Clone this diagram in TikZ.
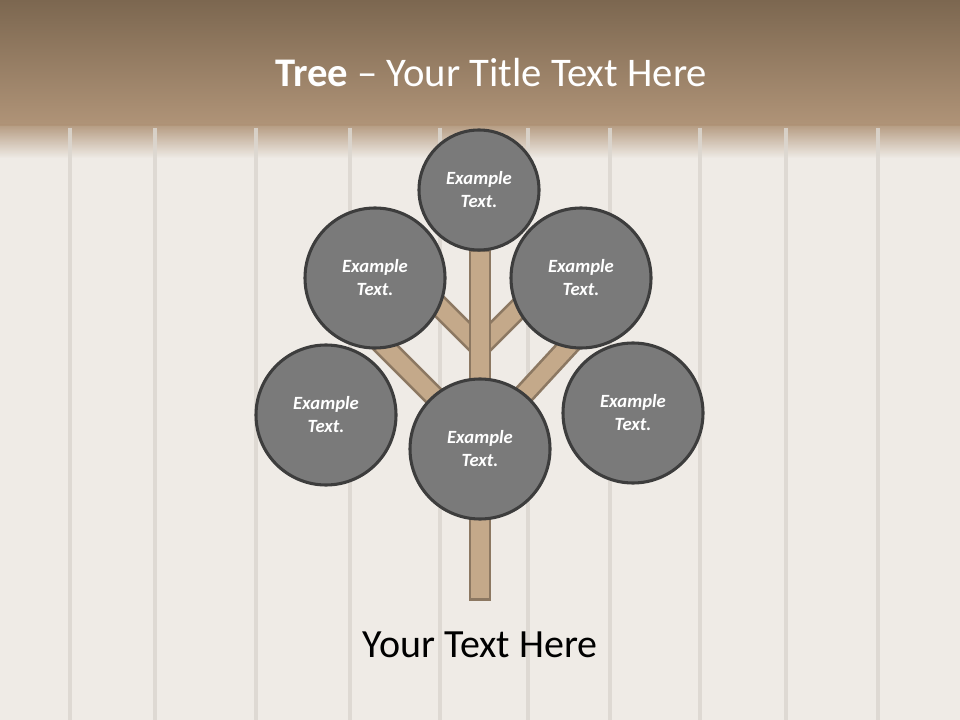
\documentclass[tikz,border=0pt]{standalone}
\usepackage{fontspec}
\setmainfont{Carlito}
\definecolor{headtop}{HTML}{7C6750}
\definecolor{headbot}{HTML}{B09478}
\definecolor{plank}{HTML}{EFEBE6}
\definecolor{seam}{HTML}{DCD7D0}
\definecolor{bark}{HTML}{C4A98A}
\definecolor{barkline}{HTML}{8C7862}
\definecolor{leaf}{HTML}{7A7A7A}
\definecolor{leafline}{HTML}{3D3D3D}
\tikzset{
  leafbig/.style={circle, draw=leafline, fill=leaf, line width=2.3pt, minimum size=105pt,
    inner sep=0pt, text=white, align=center, font=\fontsize{14}{17.25}\selectfont\bfseries\itshape},
  leafsmall/.style={leafbig, minimum size=90pt},
  branch/.style={draw=barkline, line width=2pt, double=bark, double distance=12.5pt},
  trunkbox/.style={rectangle, draw=barkline, fill=bark, line width=2pt, inner sep=0pt,
    minimum width=15pt, minimum height=262pt}
}
\begin{document}
\begin{tikzpicture}[x=0.75pt, y=-0.75pt]
    \useasboundingbox (0,0) rectangle (960,720);

    % Draw the wooden wall
    \fill[plank] (0,0) rectangle (960,720);

    % Draw the header band
    \shade[top color=headtop, bottom color=headbot] (0,0) rectangle (960,126);
    \shade[top color=headbot, bottom color=plank, opacity=0.9] (0,125) rectangle (960,158);
    \foreach \x in {70,155,256,350,440,528,610,700,786,878} {
        \draw[seam, line width=2.5pt, opacity=0.85] (\x,128) -- (\x,720);
    }
    \node[anchor=base, text=white, font=\fontsize{30.5}{36}\selectfont] (title) at (491,87)
        {\textbf{Tree} -- Your Title Text Here};

    % Fork points and branch ends
    \coordinate (fork up) at (480,347);
    \coordinate (fork low) at (480,442);
    \coordinate (up left end) at (420,287);
    \coordinate (up right end) at (535,292);
    \coordinate (low left end) at (372,334);
    \coordinate (low right end) at (586,327);

    % Draw the branches
    \draw[branch] (fork up) -- (up left end);
    \draw[branch] (fork up) -- (up right end);
    \draw[branch] (fork low) -- (low left end);
    \draw[branch] (fork low) -- (low right end);

    % Draw the trunk
    \node[trunkbox] (trunk) at (480,425) {};

    % Draw the leaves
    \node[leafsmall] (top) at (479,190) {Example\\Text.};
    \node[leafbig] (upper left) at (375,278) {Example\\Text.};
    \node[leafbig] (upper right) at (581,278) {Example\\Text.};
    \node[leafbig] (lower left) at (326,415) {Example\\Text.};
    \node[leafbig] (middle) at (480,449) {Example\\Text.};
    \node[leafbig] (lower right) at (633,413) {Example\\Text.};

    % Caption under the tree
    \node[anchor=base, font=\fontsize{30}{36}\selectfont] (caption) at (480,657) {Your Text Here};
\end{tikzpicture}
\end{document}
